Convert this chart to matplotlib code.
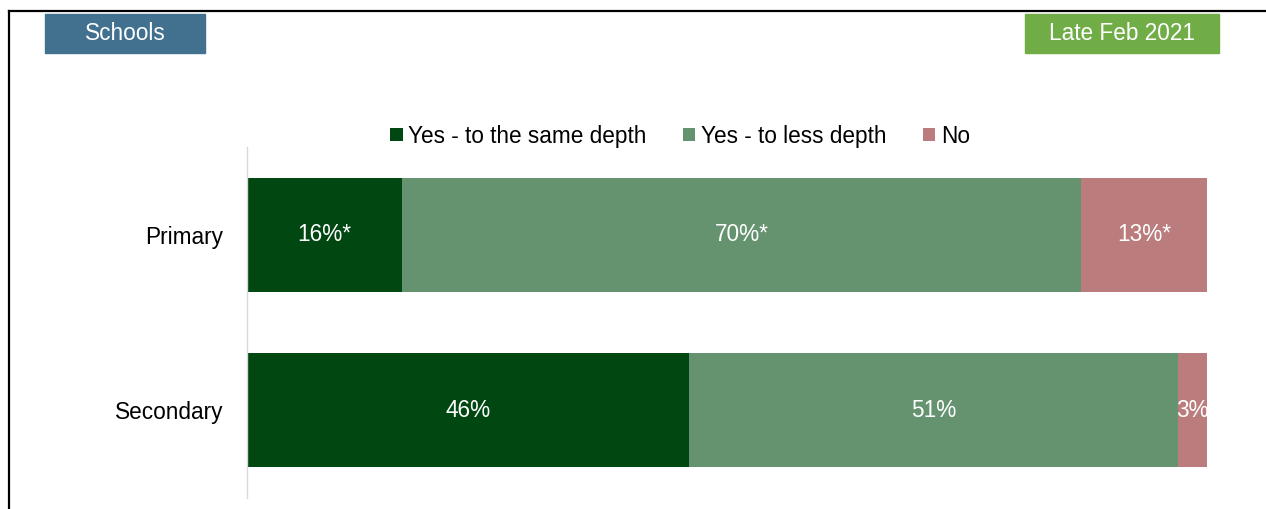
import matplotlib
matplotlib.use("Agg")
import matplotlib.pyplot as plt
from matplotlib.patches import Rectangle
import numpy as np

plt.rcParams['font.family'] = ['Liberation Sans', 'DejaVu Sans']

categories = ["Primary", "Secondary"]
series_names = ["Yes - to the same depth", "Yes - to less depth", "No"]
same_depth = [16, 46]
less_depth = [70, 51]
no_vals = [13, 3]
labels = [["16%*", "70%*", "13%*"], ["46%", "51%", "3%"]]
colors = ["#004712", "#659370", "#BA7C7C"]

FS = 16.3
W, H = 1266, 509
fig = plt.figure(figsize=(W/100, H/100), dpi=100)

# frame lines (top and left)
fig.add_artist(plt.Line2D([9/W, 1], [1-11/H, 1-11/H], color='black', lw=1.6, transform=fig.transFigure))
fig.add_artist(plt.Line2D([9/W, 9/W], [0, 1-11/H], color='black', lw=1.6, transform=fig.transFigure))

# header boxes
def box(x0, x1, y0, y1, color, text):
    fig.add_artist(Rectangle((x0/W, 1-y1/H), (x1-x0)/W, (y1-y0)/H, color=color, transform=fig.transFigure))
    fig.text((x0+x1)/2/W, 1-(y0+y1)/2/H, text, color='white', ha='center', va='center', fontsize=FS)

box(45, 205, 14, 53, "#41718F", "Schools")
box(1025, 1219, 14, 53, "#70AD47", "Late Feb 2021")

ax = fig.add_axes([247/W, 1-498/H, (1207-247)/W, (498-147)/H])
data = np.array([same_depth, less_depth, no_vals], dtype=float)
totals = data.sum(axis=0)
frac = data / totals * 100
y = np.arange(len(categories))
left = np.zeros(len(categories))
for i, name in enumerate(series_names):
    ax.barh(y, frac[i], left=left, height=0.648, color=colors[i], label=name)
    for j in range(len(categories)):
        ax.text(left[j] + frac[i][j]/2, y[j], labels[j][i], ha='center', va='center',
                color='white', fontsize=FS)
    left += frac[i]

ax.set_xlim(0, 100)
ax.set_ylim(1.5, -0.5)
ax.set_yticks(y)
ax.set_yticklabels(categories, fontsize=FS)
ax.tick_params(axis='y', length=0, pad=17)
ax.set_xticks([])
for s in ['top', 'right', 'bottom']:
    ax.spines[s].set_visible(False)
ax.spines['left'].set_color('#D9D9D9')
ax.spines['left'].set_linewidth(1)

leg = fig.legend(loc='center', bbox_to_anchor=(680/W, 1-136/H), ncol=3, frameon=False,
                 fontsize=FS, handlelength=0.55, handleheight=0.55, handletextpad=0.25,
                 columnspacing=1.6)

fig.savefig("out.png", dpi=100)
